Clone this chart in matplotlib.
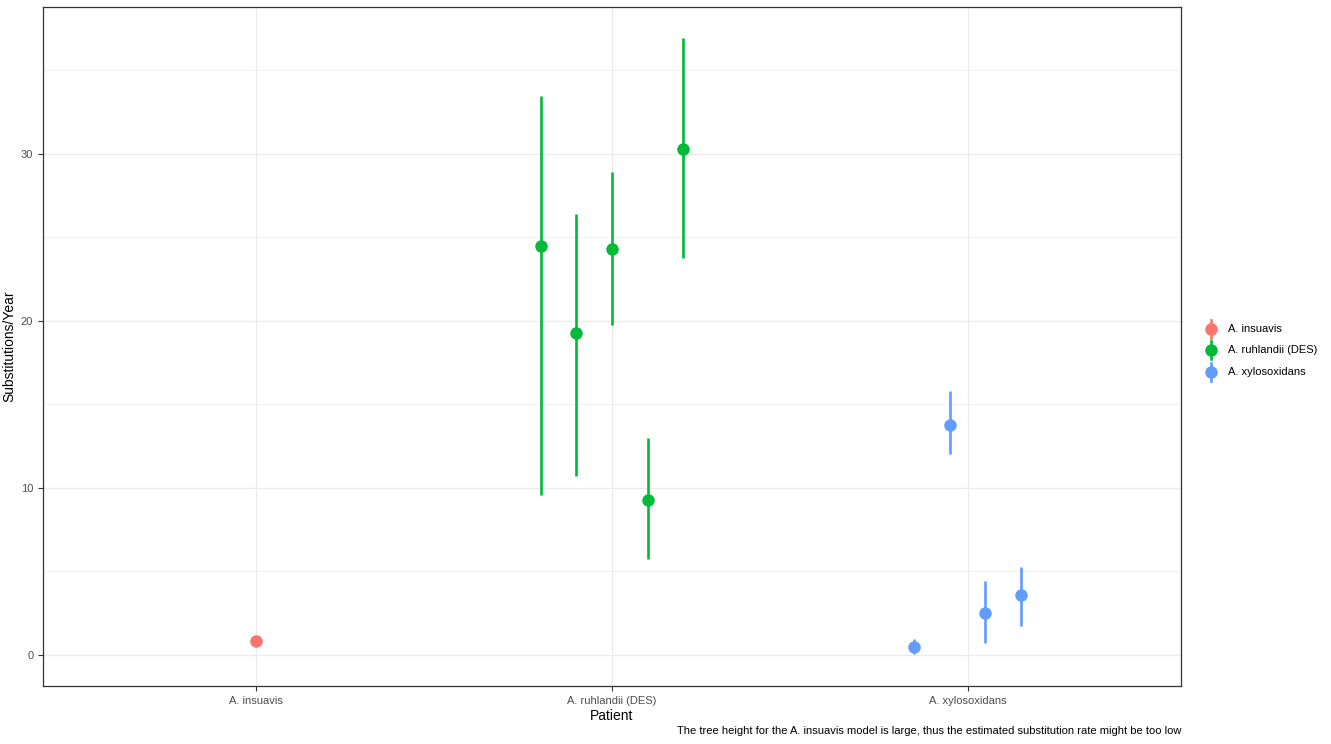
import matplotlib

matplotlib.use("Agg")
import matplotlib.pyplot as plt
from matplotlib.lines import Line2D
import numpy as np

plt.rcParams["font.family"] = ["Liberation Sans", "DejaVu Sans"]

# categories and colours (ggplot default hue palette)
patients = ["A. insuavis", "A. ruhlandii (DES)", "A. xylosoxidans"]
colors = ["#F8766D", "#00BA38", "#619CFF"]

# per-patient estimates: rate, lower, upper (substitutions/year)
insuavis_rate = [0.84]
insuavis_lo = [0.60]
insuavis_hi = [1.10]

ruhlandii_rate = [24.49, 19.28, 24.31, 9.28, 30.30]
ruhlandii_lo = [9.58, 10.72, 19.76, 5.75, 23.77]
ruhlandii_hi = [33.50, 26.40, 28.92, 12.99, 36.95]

xylos_rate = [0.48, 13.77, 2.51, 3.59]
xylos_lo = [0.05, 12.04, 0.72, 1.74]
xylos_hi = [0.95, 15.81, 4.43, 5.27]

series = [
    (insuavis_rate, insuavis_lo, insuavis_hi),
    (ruhlandii_rate, ruhlandii_lo, ruhlandii_hi),
    (xylos_rate, xylos_lo, xylos_hi),
]

caption = "The tree height for the A. insuavis model is large, thus the estimated substitution rate might be too low"

W, H = 1331, 744
fig = plt.figure(figsize=(W / 100, H / 100), dpi=100)
ax = fig.add_axes([43 / W, 1 - 686 / H, (1181 - 43) / W, (686 - 7) / H])

grid_col = "#EBEBEB"
for y in [5, 15, 25, 35]:
    ax.axhline(y, color=grid_col, linewidth=0.5, zorder=0)
for y in [0, 10, 20, 30]:
    ax.axhline(y, color=grid_col, linewidth=0.9, zorder=0)
for i in range(len(patients)):
    ax.axvline(i + 1, color=grid_col, linewidth=0.9, zorder=0)

step = 0.1
for i, (rate, lo, hi) in enumerate(series):
    n = len(rate)
    offs = (np.arange(n) - (n - 1) / 2) * step
    xs = i + 1 + offs
    ax.vlines(xs, lo, hi, color=colors[i], linewidth=1.9, zorder=3)
    ax.plot(xs, rate, "o", color=colors[i], markersize=9, markeredgewidth=0, zorder=4)

ax.set_xlim(0.4, 3.6)
ax.set_ylim(-1.86, 38.8)
ax.set_xticks([1, 2, 3])
ax.set_xticklabels(patients)
ax.set_yticks([0, 10, 20, 30])
ax.tick_params(axis="both", colors="#333333", labelcolor="#4D4D4D", labelsize=8, length=3.5, width=0.8)
for sp in ax.spines.values():
    sp.set_color("#333333")
    sp.set_linewidth(0.9)

ax.set_xlabel("Patient", fontsize=10, labelpad=2)
ax.set_ylabel("Substitutions/Year", fontsize=10)
ax.yaxis.set_label_coords((16 - 43) / (1181 - 43), 0.5)

# legend drawn by hand: vertical pointrange keys
key_x = 1211
key_ys = [329, 350, 372]
for c, lab, ky in zip(colors, patients, key_ys):
    fx = key_x / W
    fy = 1 - ky / H
    fig.add_artist(Line2D([fx, fx], [fy - 9 / H, fy + 9 / H], color=c, linewidth=1.9,
                          transform=fig.transFigure))
    fig.add_artist(Line2D([fx], [fy], color=c, marker="o", markersize=9, markeredgewidth=0,
                          transform=fig.transFigure))
    fig.text(1228 / W, fy, lab, ha="left", va="center", fontsize=8)

fig.text(1181 / W, 1 - 731 / H, caption, ha="right", va="center", fontsize=8.05)

fig.savefig("out.png", dpi=100)
